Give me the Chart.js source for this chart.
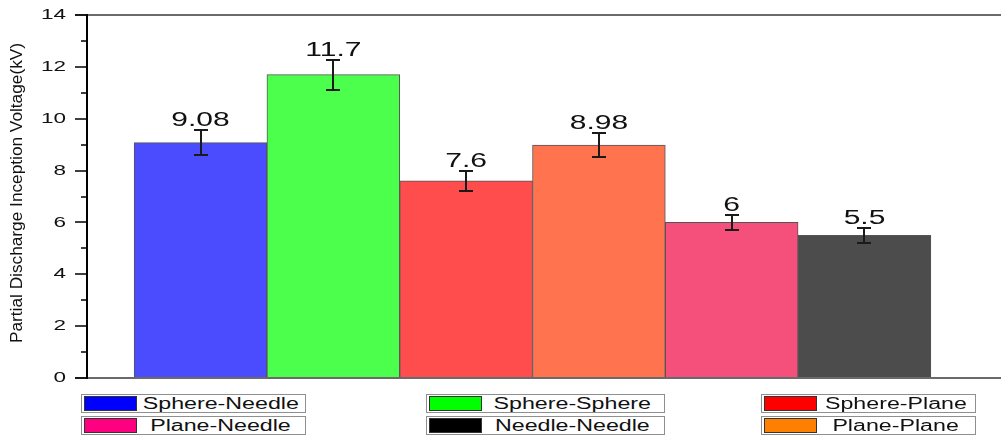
<!DOCTYPE html>
<html lang="en">
<head>
<meta charset="UTF-8">
<title>Partial Discharge Inception Voltage</title>
<script src="https://cdn.jsdelivr.net/npm/chart.js"></script>
<style>
  html, body { margin: 0; padding: 0; background: #fff; }
  body { width: 1001px; height: 436px; position: relative; overflow: hidden; font-family: 'Liberation Sans', Arial, sans-serif; }
  #wrap { position: absolute; left: 0; top: 0; width: 1001px; height: 436px; }
  .legend-item { position: absolute; height: 19px; border: 1px solid #8f8f8f; box-sizing: border-box; background: #fff; }
  .legend-item .swatch { position: absolute; left: 2px; top: 1px; width: 53px; height: 15px; border: 1px solid #333; box-sizing: border-box; }
  .legend-item .label { position: absolute; left: 56px; right: 2px; top: 0; text-align: center; line-height: 17px; font-size: 16px; color: #111; white-space: nowrap; }
  .legend-item .label span { display: inline-block; transform: scaleX(1.45); }
</style>
</head>
<body>
<div id="wrap"><canvas id="chart" width="1001" height="436"></canvas></div>
<div id="legend"></div>
<script>
  // Bars, left to right
  const categories = ['Sphere-Needle', 'Sphere-Sphere', 'Sphere-Plane', 'Plane-Plane', 'Plane-Needle', 'Needle-Needle'];
  const voltages = [9.08, 11.7, 7.6, 8.98, 6, 5.5];
  const errors = [0.47, 0.58, 0.4, 0.45, 0.3, 0.29];
  const barColors = ['#4c4cff', '#4cff4c', '#ff4c4c', '#ff734f', '#f54f7b', '#4c4c4c'];

  // Y axis
  const yMajorTicks = [0, 2, 4, 6, 8, 10, 12, 14];
  const yMinorTicks = [1, 3, 5, 7, 9, 11, 13];
  const yTitle = 'Partial Discharge Inception Voltage(kV)';

  // Legend entries, row by row
  const legendNames = ['Sphere-Needle', 'Sphere-Sphere', 'Sphere-Plane', 'Plane-Needle', 'Needle-Needle', 'Plane-Plane'];
  const legendColors = ['#0000ff', '#00ff00', '#ff0000', '#ff0080', '#000000', '#ff8000'];

  // legend box placement (3 columns x 2 rows)
  const legendCols = [{ left: 81, width: 225 }, { left: 426, width: 239 }, { left: 761, width: 215 }];
  const legendRows = [394, 416];

  const legendEl = document.getElementById('legend');
  legendNames.forEach((name, i) => {
    const col = legendCols[i % 3];
    const item = document.createElement('div');
    item.className = 'legend-item';
    item.style.left = col.left + 'px';
    item.style.width = col.width + 'px';
    item.style.top = legendRows[Math.floor(i / 3)] + 'px';
    item.innerHTML = `<div class="swatch" style="background:${legendColors[i]}"></div><div class="label"><span>${name}</span></div>`;
    legendEl.appendChild(item);
  });

  const FONT = "'Liberation Sans', Arial, sans-serif";

  const decorations = {
    id: 'decorations',
    afterDatasetsDraw(chart) {
      const { ctx, scales: { y } } = chart;
      const meta = chart.getDatasetMeta(0);
      ctx.save();
      meta.data.forEach((bar, i) => {
        const top = Math.round(y.getPixelForValue(voltages[i] + errors[i]));
        const bot = Math.round(y.getPixelForValue(voltages[i] - errors[i]));
        const cx = Math.round(bar.x);
        // error bar
        ctx.strokeStyle = '#1a1a1a';
        ctx.lineWidth = 2;
        ctx.beginPath();
        ctx.moveTo(cx, top); ctx.lineTo(cx, bot);
        ctx.moveTo(cx - 7, top); ctx.lineTo(cx + 7, top);
        ctx.moveTo(cx - 7, bot); ctx.lineTo(cx + 7, bot);
        ctx.stroke();
        // value label
        ctx.save();
        ctx.translate(bar.x, top - 4);
        ctx.scale(1.5, 1);
        ctx.font = `20px ${FONT}`;
        ctx.fillStyle = '#111';
        ctx.textAlign = 'center';
        ctx.textBaseline = 'alphabetic';
        ctx.fillText(String(voltages[i]), 0, 0);
        ctx.restore();
      });
      ctx.restore();
    },
    afterDraw(chart) {
      const { ctx, chartArea: a, scales: { y } } = chart;
      const axisX = a.left;
      ctx.save();
      // frame lines top and bottom
      ctx.strokeStyle = '#6a6a6a';
      ctx.lineWidth = 2;
      ctx.beginPath();
      ctx.moveTo(75, Math.round(a.top)); ctx.lineTo(chart.width, Math.round(a.top));
      ctx.moveTo(75, Math.round(a.bottom)); ctx.lineTo(chart.width, Math.round(a.bottom));
      ctx.stroke();
      // y axis line
      ctx.strokeStyle = '#000';
      ctx.beginPath();
      ctx.moveTo(axisX, a.top - 1); ctx.lineTo(axisX, a.bottom + 1);
      ctx.stroke();
      // ticks
      ctx.lineWidth = 1.5;
      ctx.beginPath();
      yMajorTicks.forEach(v => {
        const py = Math.round(y.getPixelForValue(v));
        ctx.moveTo(75, py); ctx.lineTo(axisX, py);
      });
      yMinorTicks.forEach(v => {
        const py = Math.round(y.getPixelForValue(v));
        ctx.moveTo(81, py); ctx.lineTo(axisX, py);
      });
      ctx.stroke();
      // tick labels
      ctx.fillStyle = '#111';
      ctx.font = `15px ${FONT}`;
      ctx.textAlign = 'right';
      ctx.textBaseline = 'middle';
      yMajorTicks.forEach(v => {
        ctx.save();
        ctx.translate(66, y.getPixelForValue(v));
        ctx.scale(1.5, 1);
        ctx.fillText(String(v), 0, 0);
        ctx.restore();
      });
      // axis title, squeezed along its length
      ctx.font = `16px ${FONT}`;
      const w = ctx.measureText(yTitle).width;
      ctx.translate(18, 193);
      ctx.rotate(-Math.PI / 2);
      ctx.scale(300 / w, 1);
      ctx.textAlign = 'center';
      ctx.fillText(yTitle, 0, 0);
      ctx.restore();
    }
  };

  new Chart(document.getElementById('chart'), {
    type: 'bar',
    data: {
      datasets: [{
        data: categories.map((c, i) => ({ x: i + 1, y: voltages[i] })),
        backgroundColor: barColors,
        borderColor: '#555',
        borderWidth: 1,
        barPercentage: 1,
        categoryPercentage: 1
      }]
    },
    options: {
      responsive: false,
      animation: false,
      devicePixelRatio: 1,
      layout: { padding: { left: 87, right: 0, top: 15, bottom: 58 } },
      plugins: { legend: { display: false }, tooltip: { enabled: false } },
      scales: {
        x: {
          type: 'linear', display: false, offset: false,
          min: 0.145, max: 7.028,
          ticks: { display: false },
          afterBuildTicks: scale => { scale.ticks = []; }
        },
        y: { display: false, min: 0, max: 14 }
      }
    },
    plugins: [decorations]
  });
</script>
</body>
</html>
